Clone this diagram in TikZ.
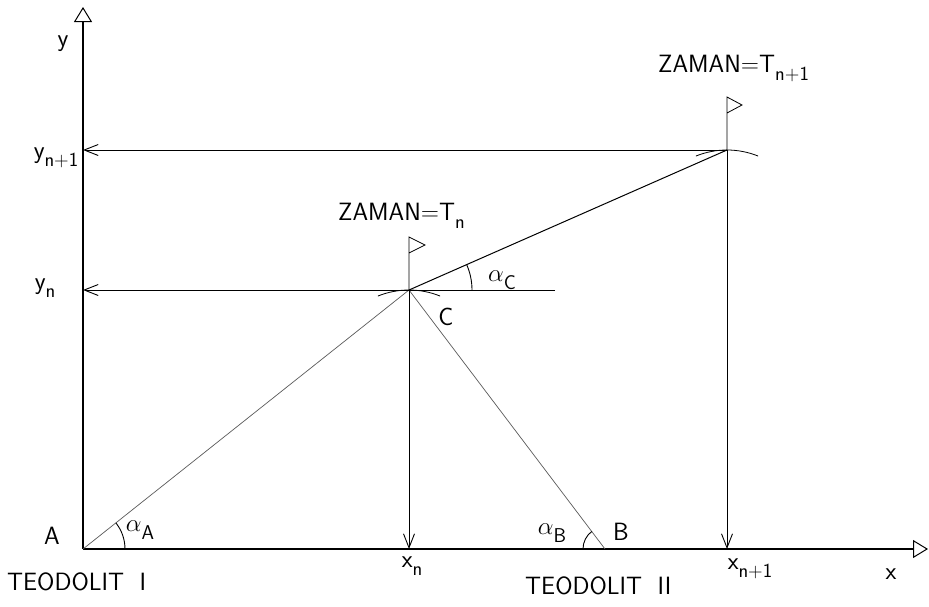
\documentclass[tikz,border=0pt]{standalone}
\usepackage{fix-cm}
\usepackage{fontspec}
\usepackage{tikz}
\usetikzlibrary{arrows.meta}

\newcommand{\subsf}[1]{\raisebox{-0.32em}{\fontsize{20}{24}\selectfont #1}}

\tikzset{
  axis/.style={line width=1.2pt, -{Triangle[open,length=15pt,width=18pt,line width=1pt]}},
  proj/.style={line width=0.9pt, -{Straight Barb[length=14pt,width=11pt]}},
  sight/.style={line width=0.7pt, black!65},
  flag/.style={line width=0.8pt},
  lbl/.style={inner sep=0pt},
}

\begin{document}
\begin{tikzpicture}[x=1pt, y=-1pt, font=\sffamily\fontsize{25}{30}\selectfont]
  \useasboundingbox (0,0) rectangle (929,606);
  \coordinate (A) at (83,549);
  \coordinate (B) at (605,549);
  \coordinate (C) at (409,290);
  \coordinate (D) at (727,150);
  \coordinate (yend) at (83,7);
  \coordinate (xend) at (928,549);
  \coordinate (xn) at (409,549);
  \coordinate (xn1) at (727,549);
  \coordinate (yn) at (83,290);
  \coordinate (yn1) at (83,150);
  \coordinate (hend) at (555,290);

  \draw[axis] (A) -- (yend);
  \draw[axis] (A) -- (xend);

  \draw[sight] (A) -- (C);
  \draw[sight] (B) -- (C);
  \draw[line width=1pt] (C) -- (D);

  \draw[line width=0.8pt] (hend) -- (C);
  \draw[proj] (C) -- (yn);
  \draw[proj] (D) -- (yn1);
  \draw[proj] (C) -- (xn);
  \draw[proj] (D) -- (xn1);

  \draw[flag] (C) -- ++(0,-53) -- ++(16,8) -- ++(-16,8);
  \draw[flag] (D) -- ++(0,-53) -- ++(15,8) -- ++(-15,8);

  \draw[line width=0.8pt] ([shift={(248:83)}]C) ++(0,83) arc[start angle=248, end angle=292, radius=83];
  \draw[line width=0.8pt] ([shift={(248:83)}]D) ++(0,83) arc[start angle=248, end angle=292, radius=83];

  \draw[line width=0.9pt] ([shift={(0:42)}]A) arc[start angle=0, end angle=-38.5, radius=42];
  \draw[line width=0.9pt] ([shift={(-127:22)}]B) arc[start angle=-127, end angle=-180, radius=22];
  \draw[line width=0.9pt] ([shift={(0:63)}]C) arc[start angle=0, end angle=-23.8, radius=63];

  \node[lbl] (ylab) at (63,44) {y};
  \node[lbl] (yn1lab) at (56,158) {y\subsf{n+1}};
  \node[lbl] (ynlab) at (45,288) {y\subsf{n}};
  \node[lbl] (Alab) at (52,536) {A};
  \node[lbl] (Blab) at (621,532) {B};
  \node[lbl] (Clab) at (446,317) {C};
  \node[lbl] (aA) at (140,530) {$\alpha$\subsf{A}};
  \node[lbl] (aB) at (552,533) {$\alpha$\subsf{B}};
  \node[lbl] (aC) at (502,280) {$\alpha$\subsf{C}};
  \node[lbl] (xnlab) at (412,566) {x\subsf{n}};
  \node[lbl] (xn1lab) at (750,569) {x\subsf{n+1}};
  \node[lbl] (xlab) at (891,574) {x};
  \node[lbl, anchor=west] (t1) at (7,582) {TEODOLIT\ \ I};
  \node[lbl, anchor=west] (t2) at (525,586) {TEODOLIT\ \ II};
  \node[lbl, anchor=west] (zn) at (338,216) {ZAMAN=T\subsf{n}};
  \node[lbl, anchor=west] (zn1) at (658,68) {ZAMAN=T\subsf{n+1}};
\end{tikzpicture}
\end{document}
